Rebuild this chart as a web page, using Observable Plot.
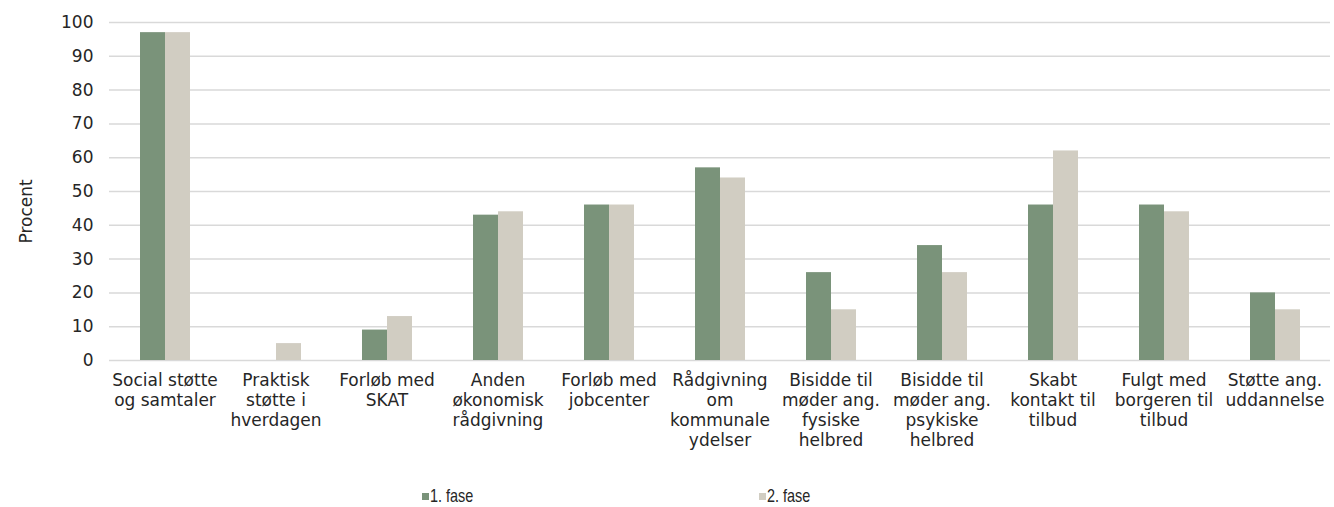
<!DOCTYPE html>
<html>
<head>
<meta charset="utf-8">
<script src="https://cdn.jsdelivr.net/npm/d3@7"></script>
<script src="https://cdn.jsdelivr.net/npm/@observablehq/plot@0.6"></script>
<style>
  html, body { margin: 0; padding: 0; background: #fff; }
  #chart { width: 1334px; }
  .legend { position: relative; height: 37px; font-family: "Liberation Sans", sans-serif; font-size: 19px; color: #262626; }
  .legend .item { position: absolute; top: 16px; display: flex; align-items: center; line-height: 20px; }
  .legend .sw { width: 7px; height: 7px; margin-right: 1px; margin-top: 1px; }
  .legend span { display: inline-block; transform: scaleX(0.76); transform-origin: left center; }
</style>
</head>
<body>
<div id="chart"></div>
<script>
// Services offered, share of citizens (percent), by project phase
const categories = [
  "Social støtte\nog samtaler",
  "Praktisk\nstøtte i\nhverdagen",
  "Forløb med\nSKAT",
  "Anden\nøkonomisk\nrådgivning",
  "Forløb med\njobcenter",
  "Rådgivning\nom\nkommunale\nydelser",
  "Bisidde til\nmøder ang.\nfysiske\nhelbred",
  "Bisidde til\nmøder ang.\npsykiske\nhelbred",
  "Skabt\nkontakt til\ntilbud",
  "Fulgt med\nborgeren til\ntilbud",
  "Støtte ang.\nuddannelse"
];
const phases = ["1. fase", "2. fase"];
const phase1 = [97, 0, 9, 43, 46, 57, 26, 34, 46, 46, 20];
const phase2 = [97, 5, 13, 44, 46, 54, 15, 26, 62, 44, 15];
const yTicks = [0, 10, 20, 30, 40, 50, 60, 70, 80, 90, 100];
const yLabel = "Procent";
const colors = ["#7a937a", "#d1cdc2"];

const data = [];
categories.forEach((cat, i) => {
  data.push({cat, phase: phases[0], value: phase1[i]});
  data.push({cat, phase: phases[1], value: phase2[i]});
});

const font = "'DejaVu Sans', sans-serif";

const chart = Plot.plot({
  width: 1334,
  height: 470,
  marginLeft: 108,
  marginRight: 4,
  marginTop: 22,
  marginBottom: 110,
  style: {fontFamily: font, fontSize: "17px", color: "#262626", background: "#fff"},
  // contiguous category columns so the gridlines run unbroken
  fx: {domain: categories, padding: 0, label: null},
  x: {domain: phases, paddingInner: 0, paddingOuter: 1.22, axis: null},
  y: {domain: [0, 100], label: null},
  color: {domain: phases, range: colors},
  marks: [
    Plot.gridY(yTicks, {stroke: "#d9d9d9", strokeOpacity: 1, strokeWidth: 1.5}),
    Plot.barY(data, {fx: "cat", x: "phase", y: "value", fill: "phase"}),
    Plot.axisY(yTicks, {tickSize: 0, tickPadding: 16, label: null, fill: "#262626"}),
    Plot.text([yLabel], {fx: () => categories[0], frameAnchor: "left", rotate: -90, dx: -83, dy: 52, fill: "#262626"}),
    Plot.axisFx({anchor: "bottom", tickSize: 0, tickPadding: 11, lineHeight: 1.18, label: null, fill: "#262626"})
  ]
});
document.getElementById("chart").appendChild(chart);

// Legend below the plot
const legend = d3.select("body").append("div").attr("class", "legend");
const legendX = [422, 759];
phases.forEach((p, i) => {
  const item = legend.append("div").attr("class", "item").style("left", legendX[i] + "px");
  item.append("div").attr("class", "sw").style("background", colors[i]);
  item.append("span").text(p);
});
</script>
</body>
</html>
